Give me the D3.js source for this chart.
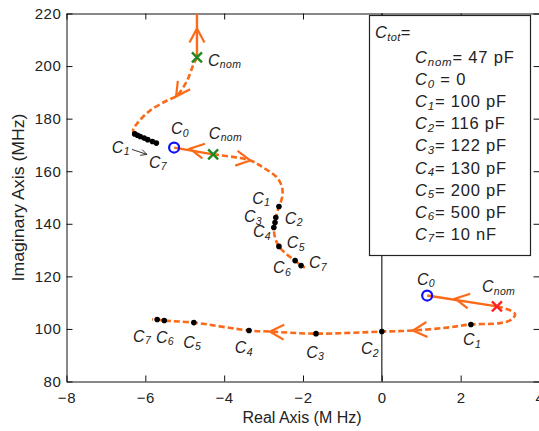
<!DOCTYPE html>
<html>
<head>
<meta charset="utf-8">
<script src="https://cdn.jsdelivr.net/npm/d3@7"></script>
<style>
  body { margin: 0; background: #fff; }
  svg { display: block; }
  text { font-family: "Liberation Sans", Arial, sans-serif; fill: #222; }
</style>
</head>
<body>
<svg id="chart" width="539" height="431"></svg>
<script>
// ---- axis ticks ----
const xTicks = [-8, -6, -4, -2, 0, 2, 4];
const yTicks = [80, 100, 120, 140, 160, 180, 200, 220];

// ---- branch 1 (upper-left pole) ----
const b1Solid  = [[-4.69, 220], [-4.69, 203.3]];
const b1Dashed = [[-4.69, 203.3], [-4.79, 200.2], [-4.94, 194.5], [-5.20, 188.8], [-5.45, 186.9],
                  [-5.88, 183.1], [-6.19, 178.5], [-6.31, 175.5], [-6.26, 174.3], [-6.14, 173.2],
                  [-5.96, 172.1], [-5.83, 171.3], [-5.70, 170.5]];
const b1Nom    = [-4.69, 203.3];
const b1Marks  = [[-6.27, 174.2], [-6.20, 173.7], [-6.13, 173.2], [-6.03, 172.6], [-5.94, 172.0],
                  [-5.82, 171.3], [-5.72, 170.7]];

// ---- branch 2 (middle pole) ----
const b2Solid  = [[-5.27, 169.0], [-4.28, 166.4]];
const b2Dashed = [[-4.28, 166.4], [-3.34, 164.1], [-3.01, 161.4], [-2.66, 157.6], [-2.53, 153.8],
                  [-2.53, 150.0], [-2.61, 146.6], [-2.69, 142.4], [-2.71, 140.5], [-2.74, 138.6],
                  [-2.71, 134.8], [-2.61, 131.4], [-2.41, 128.3], [-2.20, 126.0], [-2.05, 124.1],
                  [-1.95, 123.4]];
const b2Zero   = [-5.27, 169.0];
const b2Nom    = [-4.28, 166.4];
const b2Marks  = [[-2.61, 146.6], [-2.69, 142.4], [-2.71, 140.5], [-2.74, 138.6],
                  [-2.61, 131.4], [-2.20, 126.0], [-2.05, 124.1]];

// ---- branch 3 (lower pole) ----
const b3Solid  = [[1.15, 112.7], [2.92, 108.6]];
const b3Dashed = [[2.92, 108.6], [3.25, 107.1], [3.38, 105.6], [3.30, 103.7], [3.00, 102.2],
                  [2.26, 101.7], [1.65, 100.5], [0.79, 99.4], [0.00, 99.0], [-1.67, 98.2],
                  [-2.84, 99.0], [-3.37, 99.4], [-4.77, 102.4], [-5.52, 103.2], [-5.70, 103.6],
                  [-5.83, 103.6]];
const b3Zero   = [1.15, 112.7];
const b3Nom    = [2.92, 108.6];
const b3Marks  = [[2.26, 101.7], [0.00, 99.0], [-1.67, 98.2], [-3.37, 99.4],
                  [-4.77, 102.4], [-5.52, 103.2], [-5.70, 103.6]];

// direction arrows: [tipX, tipY, backX, backY]
const arrowHeads = [
  [-4.69, 214.3, -4.69, 208.0],
  [-5.22, 188.4, -4.94, 194.5],
  [-4.87, 168.6, -4.50, 167.6],
  [-3.34, 164.1, -3.80, 165.2],
  [ 1.86, 111.5,  2.40, 110.1],
  [ 0.79,  99.4,  1.40, 100.1],
  [-2.84,  99.0, -2.20,  98.6]
];

// point annotations: [subscript, x, y] (text start, baseline)
const annotations = [
  ["nom", -4.41, 200.2], ["0", -5.35, 174.0], ["nom", -4.39, 172.4],
  ["1", -6.85, 167.1], ["7", -5.91, 161.4],
  ["1", -3.29, 147.7], ["3", -3.50, 140.5], ["2", -2.46, 140.1], ["4", -3.27, 134.8],
  ["5", -2.41, 130.6], ["6", -2.76, 121.1], ["7", -1.85, 123.0],
  ["0", 0.89, 116.9], ["nom", 2.54, 113.9], ["1", 2.06, 93.7], ["2", -0.53, 90.3],
  ["3", -1.92, 89.1], ["4", -3.73, 90.7], ["5", -5.04, 92.9], ["6", -5.73, 94.8], ["7", -6.31, 95.2]
];
const noteArrow = [[-6.34, 168.3], [-5.96, 166.4]];

// legend entries
const legendTitle = ["tot", "="];
const legendItems = [["nom", "= 47 pF"], ["0", " = 0"], ["1", "= 100 pF"], ["2", "= 116 pF"],
                     ["3", "= 122 pF"], ["4", "= 130 pF"], ["5", "= 200 pF"], ["6", "= 500 pF"],
                     ["7", "= 10 nF"]];

// ---- layout ----
const svg = d3.select("#chart");
const x = d3.scaleLinear().domain([-8, 4]).range([66.5, 539.5]);
const y = d3.scaleLinear().domain([80, 220]).range([381.5, 13.5]);
const ORANGE = "#fb6a18";

const defs = svg.append("defs");
defs.append("clipPath").attr("id", "plotClip")
  .append("rect").attr("x", x(-8)).attr("y", y(220)).attr("width", x(4) - x(-8)).attr("height", y(80) - y(220));

// axes with inward ticks on all four sides
const axisStyle = g => {
  g.selectAll("path.domain").attr("stroke", "#111").attr("stroke-width", 1);
  g.selectAll(".tick line").attr("stroke", "#111").attr("stroke-width", 1);
  g.selectAll(".tick text").style("font-size", "15px").style("letter-spacing", "0.6px").attr("fill", "#222")
    .style("font-family", '"Liberation Sans", Arial, sans-serif');
};
svg.append("g").attr("transform", `translate(0,${y(80)})`)
  .call(d3.axisBottom(x).tickValues(xTicks).tickFormat(d3.format("d")).tickSizeInner(-6).tickSizeOuter(0).tickPadding(11))
  .call(axisStyle);
svg.append("g").attr("transform", `translate(${x(-8)},0)`)
  .call(d3.axisLeft(y).tickValues(yTicks).tickFormat(d3.format("d")).tickSizeInner(-6).tickSizeOuter(0).tickPadding(5))
  .call(axisStyle);
svg.append("g").attr("transform", `translate(0,${y(220)})`)
  .call(d3.axisTop(x).tickValues(xTicks).tickFormat("").tickSizeInner(-6).tickSizeOuter(0))
  .call(axisStyle);
svg.append("g").attr("transform", `translate(${x(4)},0)`)
  .call(d3.axisRight(y).tickValues(yTicks).tickFormat("").tickSizeInner(-6).tickSizeOuter(0))
  .call(axisStyle);

// axis titles
svg.append("text").attr("x", 302).attr("y", 423).attr("text-anchor", "middle")
  .style("font-size", "16px").text("Real Axis (M Hz)");
svg.append("text").attr("transform", `translate(24,${(y(80) + y(220)) / 2}) rotate(-90)`)
  .attr("text-anchor", "middle").attr("textLength", 168).attr("lengthAdjust", "spacingAndGlyphs")
  .style("font-size", "16px").text("Imaginary Axis (MHz)");

// vertical line at Re = 0
svg.append("line").attr("x1", x(0)).attr("x2", x(0)).attr("y1", y(80)).attr("y2", y(220))
  .attr("stroke", "#222").attr("stroke-width", 1.2);

// legend box
const lg = svg.append("g");
lg.append("rect").attr("x", 369.5).attr("y", 15.5).attr("width", 161).attr("height", 240)
  .attr("fill", "#fff").attr("stroke", "#222").attr("stroke-width", 1.2);

function cText(g, px, py, sub, rest, size, subSize, spacing) {
  const t = g.append("text").attr("x", px).attr("y", py).style("font-size", size + "px")
    .style("letter-spacing", (spacing || 0) + "px");
  t.append("tspan").style("font-style", "italic").text("C");
  t.append("tspan").style("font-style", "italic").style("font-size", subSize + "px").attr("dy", 2.5).text(sub);
  if (rest) t.append("tspan").attr("dy", -2.5).text(rest);
  return t;
}
cText(lg, 375, 38, legendTitle[0], legendTitle[1], 16.5, 11, 0.4);
legendItems.forEach((d, i) => cText(lg, 415, 63 + i * 22.1, d[0], d[1], 16.5, 11.5, 0.8));

// ---- curves ----
const plot = svg.append("g").attr("clip-path", "url(#plotClip)");
const line = d3.line().x(d => x(d[0])).y(d => y(d[1])).curve(d3.curveCatmullRom.alpha(0.5));

[b1Solid, b2Solid, b3Solid].forEach(s =>
  plot.append("path").attr("d", line(s)).attr("fill", "none").attr("stroke", ORANGE).attr("stroke-width", 2.4));
[b1Dashed, b2Dashed, b3Dashed].forEach(s =>
  plot.append("path").attr("d", line(s)).attr("fill", "none").attr("stroke", ORANGE)
    .attr("stroke-width", 2.6).attr("stroke-dasharray", "6 3"));

// arrow heads (open V)
arrowHeads.forEach(([tx, ty, bx, by]) => {
  const px = x(tx), py = y(ty);
  const ang = Math.atan2(py - y(by), px - x(bx));
  const L = 14, Wd = 7.5;
  const p1 = [px - L * Math.cos(ang) + Wd * Math.sin(ang), py - L * Math.sin(ang) - Wd * Math.cos(ang)];
  const p2 = [px - L * Math.cos(ang) - Wd * Math.sin(ang), py - L * Math.sin(ang) + Wd * Math.cos(ang)];
  plot.append("path").attr("d", `M${p1}L${px},${py}L${p2}`)
    .attr("fill", "none").attr("stroke", ORANGE).attr("stroke-width", 2.2);
});

// black markers at C1..C7
[b1Marks, b2Marks, b3Marks].forEach(m =>
  plot.selectAll(null).data(m).enter().append("circle")
    .attr("cx", d => x(d[0])).attr("cy", d => y(d[1])).attr("r", 2.8).attr("fill", "#000"));

// C0 circles
[b2Zero, b3Zero].forEach(p =>
  plot.append("circle").attr("cx", x(p[0])).attr("cy", y(p[1])).attr("r", 5)
    .attr("fill", "none").attr("stroke", "#1010ff").attr("stroke-width", 2.2));

// Cnom crosses
function cross(p, color) {
  const cx = x(p[0]), cy = y(p[1]), s = 5;
  plot.append("path").attr("d", `M${cx - s},${cy - s}L${cx + s},${cy + s}M${cx - s},${cy + s}L${cx + s},${cy - s}`)
    .attr("stroke", color).attr("stroke-width", 2.4);
}
cross(b1Nom, "#1f8a1f");
cross(b2Nom, "#1f8a1f");
cross(b3Nom, "#ff2222");

// annotation labels
const ann = svg.append("g");
annotations.forEach(([sub, ax, ay]) => cText(ann, x(ax), y(ay), sub, null, 16, 10.5, 0.3));

// C1 -> C7 pointer
const [na, nb] = noteArrow;
const ax1 = x(na[0]), ay1 = y(na[1]), ax2 = x(nb[0]), ay2 = y(nb[1]);
const ang = Math.atan2(ay2 - ay1, ax2 - ax1);
ann.append("line").attr("x1", ax1).attr("y1", ay1).attr("x2", ax2).attr("y2", ay2)
  .attr("stroke", "#333").attr("stroke-width", 1);
ann.append("path")
  .attr("d", `M${ax2 - 6 * Math.cos(ang) + 3 * Math.sin(ang)},${ay2 - 6 * Math.sin(ang) - 3 * Math.cos(ang)}L${ax2},${ay2}L${ax2 - 6 * Math.cos(ang) - 3 * Math.sin(ang)},${ay2 - 6 * Math.sin(ang) + 3 * Math.cos(ang)}`)
  .attr("fill", "none").attr("stroke", "#333").attr("stroke-width", 1);
</script>
</body>
</html>
